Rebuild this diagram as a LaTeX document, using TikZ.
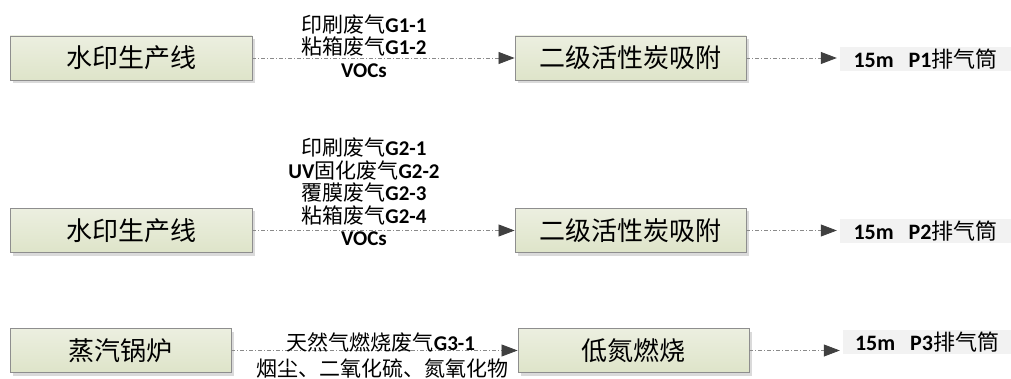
\documentclass[tikz,border=0pt]{standalone}
\usepackage{fontspec}
\setmainfont{Carlito}
\newfontfamily\cjk{Noto Sans CJK SC}
\usetikzlibrary{arrows.meta,shadows}

\definecolor{boxline}{HTML}{8E8E8E}
\definecolor{boxtop}{HTML}{ECEFE0}
\definecolor{boxbot}{HTML}{DEE4C9}
\definecolor{shadowgray}{HTML}{DADADA}
\definecolor{flowgray}{HTML}{8A8A8A}
\definecolor{tipgray}{HTML}{404040}
\definecolor{stackfill}{HTML}{F2F2F2}

\tikzset{
  unit/.style={draw=boxline, line width=0.9pt, top color=boxtop, bottom color=boxbot,
    minimum height=44pt, inner sep=0pt, align=center,
    font=\cjk\fontsize{26}{28}\selectfont,
    general shadow={shadow xshift=3pt, shadow yshift=-3pt, fill=shadowgray}},
  stack/.style={fill=stackfill, minimum height=24pt, inner sep=0pt, align=center,
    font=\fontsize{22}{24}\selectfont},
  flow/.style={draw=flowgray, line width=0.8pt,
    dash pattern=on 4pt off 2pt on 1pt off 2pt,
    -{Triangle[length=16pt,width=12pt,color=tipgray]}},
  note/.style={align=center, inner sep=0pt, font=\fontsize{21}{22.5}\selectfont},
}

\begin{document}
\begin{tikzpicture}[x=1pt,y=-1pt]
\useasboundingbox (0,0) rectangle (1011,379);

% line 1: printing
\node[unit, minimum width=242pt] (src1) at (131,58) {水印生产线};
\node[unit, minimum width=231pt] (dst1) at (630.5,58) {二级活性炭吸附};
\node[stack, minimum width=171pt] (out1) at (925.5,59) {\textbf{15m\ \ \ P1}{\cjk 排气筒}};
\draw[flow] (src1) -- (dst1);
\draw[flow] (dst1.east) -- ([xshift=-3pt]dst1.east -| out1.west);
\node[note] (lab1) at (364,46) {{\cjk 印刷废气}\textbf{G1-1}\\{\cjk 粘箱废气}\textbf{G1-2}\\\textbf{VOCs}};

% line 2: printing with UV curing and laminating
\node[unit, minimum width=242pt] (src2) at (131,230.5) {水印生产线};
\node[unit, minimum width=231pt] (dst2) at (630.5,230.5) {二级活性炭吸附};
\node[stack, minimum width=171pt] (out2) at (925.5,231) {\textbf{15m\ \ \ P2}{\cjk 排气筒}};
\draw[flow] (src2) -- (dst2);
\draw[flow] (dst2.east) -- ([xshift=-3pt]dst2.east -| out2.west);
\node[note] (lab2) at (364,192) {{\cjk 印刷废气}\textbf{G2-1}\\\textbf{UV}{\cjk 固化废气}\textbf{G2-2}\\{\cjk 覆膜废气}\textbf{G2-3}\\{\cjk 粘箱废气}\textbf{G2-4}\\\textbf{VOCs}};

% line 3: steam boiler
\node[unit, minimum width=221pt] (src3) at (120.5,350.5) {蒸汽锅炉};
\node[unit, minimum width=231pt] (dst3) at (633.5,350.5) {低氮燃烧};
\node[stack, minimum width=168pt] (out3) at (927,342) {\textbf{15m\ \ \ P3}{\cjk 排气筒}};
\draw[flow] (src3) -- (dst3);
\draw[flow] (dst3.east) -- ([xshift=-3pt]dst3.east -| out3.west);
\node[note] (lab3a) at (381,342) {{\cjk 天然气燃烧废气}\textbf{G3-1}};
\node[note] (lab3b) at (382,368) {\cjk 烟尘、二氧化硫、氮氧化物};
\end{tikzpicture}
\end{document}
